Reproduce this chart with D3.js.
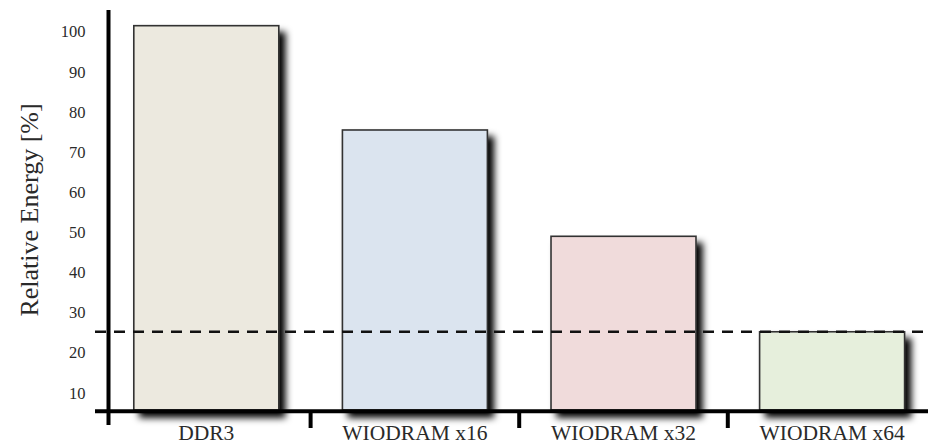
<!DOCTYPE html>
<html>
<head>
<meta charset="utf-8">
<script src="https://cdn.jsdelivr.net/npm/d3@7/dist/d3.min.js"></script>
<style>
  html, body { margin: 0; padding: 0; background: #ffffff; }
  svg { display: block; }
  text { font-family: "Liberation Serif", "DejaVu Serif", serif; fill: #2a2a2a; }
</style>
</head>
<body>
<svg id="chart" width="941" height="448"></svg>
<script>
// Memory configurations and their energy relative to DDR3
const categories = ["DDR3", "WIODRAM x16", "WIODRAM x32", "WIODRAM x64"];
const energy = [101.5, 75.5, 49, 25.2];
const fills = ["#ECE9DF", "#DBE4EF", "#F0DBDB", "#E6EFDC"];
const yTicks = [10, 20, 30, 40, 50, 60, 70, 80, 90, 100];
const referenceLevel = 25.2;
const yTitle = "Relative Energy [%]";

const svg = d3.select("#chart");

// Soft drop shadow cast to the lower right of every bar
const defs = svg.append("defs");
const shadow = defs.append("filter")
  .attr("id", "barShadow")
  .attr("x", "-10%").attr("y", "-10%")
  .attr("width", "130%").attr("height", "130%");
shadow.append("feDropShadow")
  .attr("dx", 6).attr("dy", 7)
  .attr("stdDeviation", 3.8)
  .attr("flood-color", "#000")
  .attr("flood-opacity", 1);

// Scales: the horizontal axis sits a little above zero
const yFloor = 5.7;
const y = d3.scaleLinear().domain([yFloor, 100]).range([410, 31.7]);
const x = d3.scaleBand()
  .domain(categories)
  .range([102, 936.4])
  .paddingInner(0.305)
  .paddingOuter(0.1525);

const baseY = y(yFloor);

// Bars
svg.append("g")
  .selectAll("rect")
  .data(categories)
  .join("rect")
  .attr("x", d => x(d))
  .attr("y", (d, i) => y(energy[i]))
  .attr("width", x.bandwidth())
  .attr("height", (d, i) => baseY - y(energy[i]))
  .attr("fill", (d, i) => fills[i])
  .attr("stroke", "#333")
  .attr("stroke-width", 1.6)
  .attr("filter", "url(#barShadow)");

// Y tick labels (no tick marks)
const yAxis = d3.axisLeft(y)
  .tickValues(yTicks)
  .tickSize(0)
  .tickPadding(23)
  .tickFormat(d3.format("d"));
const gy = svg.append("g")
  .attr("transform", "translate(108.5,0)")
  .call(yAxis);
gy.select(".domain").remove();
gy.selectAll("text")
  .attr("font-family", "Liberation Serif, serif")
  .attr("font-size", 16.5)
  .attr("fill", "#2a2a2a");

// Y axis line, extending a little below the x axis
svg.append("line")
  .attr("x1", 108.5).attr("x2", 108.5)
  .attr("y1", 10).attr("y2", 425)
  .attr("stroke", "#000")
  .attr("stroke-width", 4);

// X axis line
svg.append("line")
  .attr("x1", 95).attr("x2", 928)
  .attr("y1", baseY + 1.2).attr("y2", baseY + 1.2)
  .attr("stroke", "#000")
  .attr("stroke-width", 4);

// X tick marks between categories
const step = x.step();
const gap = step * x.paddingInner();
svg.append("g")
  .selectAll("line")
  .data(categories.slice(1))
  .join("line")
  .attr("x1", d => x(d) - gap / 2)
  .attr("x2", d => x(d) - gap / 2)
  .attr("y1", baseY + 2)
  .attr("y2", baseY + 18)
  .attr("stroke", "#000")
  .attr("stroke-width", 4);

// Category labels
svg.append("g")
  .selectAll("text")
  .data(categories)
  .join("text")
  .attr("x", d => x(d) + x.bandwidth() / 2)
  .attr("y", 440)
  .attr("text-anchor", "middle")
  .attr("font-size", 21.5)
  .text(d => d);

// Dashed reference line across the chart
svg.append("line")
  .attr("x1", 95).attr("x2", 928)
  .attr("y1", y(referenceLevel)).attr("y2", y(referenceLevel))
  .attr("stroke", "#111")
  .attr("stroke-width", 2.5)
  .attr("stroke-dasharray", "11,8");

// Y axis title
svg.append("text")
  .attr("transform", "translate(38,210) rotate(-90)")
  .attr("text-anchor", "middle")
  .attr("font-size", 26)
  .attr("fill", "#333")
  .text(yTitle);
</script>
</body>
</html>
